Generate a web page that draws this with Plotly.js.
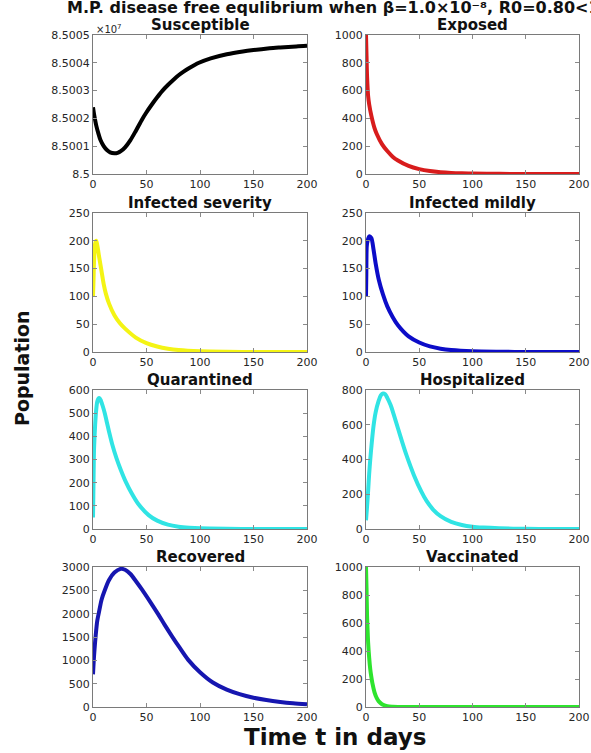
<!DOCTYPE html>
<html><head><meta charset="utf-8">
<script src="https://cdn.plot.ly/plotly-3.0.1.min.js"></script>
<style>html,body{margin:0;padding:0;background:#fff}#chart{width:591px;height:753px}</style>
</head><body><div id="chart"></div>
<script>
// ---- data ----
const tSusceptible = [0,1,2,3,5,7,10,13,16,20,23,26,30,35,40,46,50,55,60,65,70,75,80,85,90,99,110,125,140,150,165,175,190,200];
const susceptible = [85002400,85002150,85001940,85001750,85001460,85001220,85001000,85000860,85000780,85000745,85000760,85000820,85000960,85001220,85001550,85001970,85002220,85002500,85002760,85003000,85003200,85003380,85003550,85003690,85003810,85004000,85004160,85004310,85004410,85004460,85004520,85004550,85004590,85004610];

const tExposed = [0,0.5,1,2,3,5,8,10,15,20,25,30,40,50,60,70,80,90,100,125,150,175,200];
const exposed = [1000,850,700,560,500,420,330,290,215,165,125,97,58,35,21,13,8,5,3,1,0.3,0.1,0];

const tSevere = [0,0.5,1,2,3,4,6,8,10,12,15,20,25,30,40,50,60,70,80,100,125,150,200];
const infectedSevere = [100,130,165,195,200,192,168,145,122,105,87,66,52,42,26,16,10,6,3.5,1.3,0.4,0.1,0];

const tMild = [0,0.3,0.7,1.5,3,5,7,9,12,16,20,25,30,40,50,60,70,80,100,125,150,200];
const infectedMild = [100,140,190,200,208,205,185,160,130,103,82,63,48,28,17,10,6,3.5,1.2,0.4,0.1,0];

const tQuarantined = [0,0.3,0.7,1,2,3,4,5,6,7,9,11,13,15,18,22,26,31,36,42,52,60,70,80,90,100,125,150,200];
const quarantined = [50,140,280,350,450,515,550,563,565,558,532,500,460,420,365,305,255,200,155,110,60,36,19,10,5.5,2.8,0.8,0.2,0];

const tHospitalized = [0,1,2,3,4,5,7,9,12,14,16,18,20,23,26,30,34,38,45,52,57,63,70,80,90,100,110,125,150,175,200];
const hospitalized = [50,130,220,320,400,470,590,670,740,770,780,775,755,715,660,580,500,425,310,215,160,112,74,41,23,13,8,4,1,0.3,0.1];

const tRecovered = [0,1,2,3,4,6,8,11,15,20,26,30,35,40,46,53,61,67,74,81,89,100,112,125,137,150,162,175,187,200];
const recovered = [700,1100,1400,1650,1850,2080,2300,2500,2720,2880,2960,2940,2850,2700,2510,2270,1985,1760,1510,1270,1010,745,525,372,275,198,148,108,80,58];

const tVaccinated = [0,0.5,1,1.5,2,3,4,5,6,8,10,12,15,20,25,30,50,100,150,200];
const vaccinated = [1000,850,650,550,460,350,270,215,170,105,65,40,20,6,2,0.5,0,0,0,0];

const panelTitles = ['Susceptible','Exposed','Infected severity','Infected mildly','Quarantined','Hospitalized','Recovered','Vaccinated'];
const xTicks = [0,50,100,150,200];
const susceptibleTicks = [85000000,85001000,85002000,85003000,85004000,85005000];
const susceptibleTickText = ['8.5','8.5001','8.5002','8.5003','8.5004','8.5005'];
const yMax = [85005000,1000,250,250,600,800,3000,1000];
const yStep = [1000,200,50,50,100,200,500,200];

const mainTitle = 'M.P. disease free equlibrium when β=1.0×10⁻⁸, R0=0.80<1';
const xLabel = 'Time t in days';
const yLabel = 'Population';

// ---- build ----
const series = [
  [tSusceptible, susceptible, '#000000'],
  [tExposed, exposed, '#d81c1c'],
  [tSevere, infectedSevere, '#f4f414'],
  [tMild, infectedMild, '#0c0cc8'],
  [tQuarantined, quarantined, '#30e4e4'],
  [tHospitalized, hospitalized, '#30e4e4'],
  [tRecovered, recovered, '#1616b0'],
  [tVaccinated, vaccinated, '#2ee42e']
];
const W = 591, H = 753;
const colPx = [[93,307],[366,579]];
const rowPx = [[35,174],[213,352],[390,529],[567,707]];

const tickFont = {family:'DejaVu Sans', size:11, color:'#262626'};
const boldFont = (s)=>({family:'DejaVu Sans', size:s, color:'#111', weight:'bold'});

const traces = [];
const layout = {
  width:W, height:H, autosize:false,
  margin:{l:0,r:0,t:0,b:0},
  paper_bgcolor:'#fff', plot_bgcolor:'#fff',
  showlegend:false,
  annotations:[]
};
series.forEach((s,i)=>{
  const n = i+1;
  const col = i%2, row = Math.floor(i/2);
  const xd = [colPx[col][0]/W, colPx[col][1]/W];
  const yd = [1-rowPx[row][1]/H, 1-rowPx[row][0]/H];
  traces.push({x:s[0], y:s[1], type:'scatter', mode:'lines',
    line:{color:s[2], width:4, shape:'spline', smoothing:0.8}, xaxis:'x'+n, yaxis:'y'+n, hoverinfo:'skip'});
  const common = {showgrid:false, zeroline:false, showline:true, linecolor:'#7a7a7a', linewidth:1,
    mirror:'ticks', ticks:'inside', ticklen:4, tickcolor:'#8a8a8a', tickfont:tickFont, fixedrange:true};
  layout['xaxis'+n] = Object.assign({}, common, {domain:xd, anchor:'y'+n, range:[0,200],
    tickmode:'array', tickvals:xTicks, ticktext:xTicks.map(String)});
  const yTickVals = [];
  const yBase = i===0 ? 85000000 : 0;
  for (let v=yBase; v<=yMax[i]+1e-6; v+=yStep[i]) yTickVals.push(v);
  layout['yaxis'+n] = Object.assign({}, common, {domain:yd, anchor:'x'+n, range:[yBase,yMax[i]],
    tickmode:'array', tickvals: i===0?susceptibleTicks:yTickVals,
    ticktext: i===0?susceptibleTickText:yTickVals.map(String)});
  layout.annotations.push({text:panelTitles[i], xref:'paper', yref:'paper',
    x:(xd[0]+xd[1])/2, y:yd[1], xanchor:'center', yanchor:'bottom', yshift:-1,
    showarrow:false, font:boldFont(15)});
});
layout.annotations.push({text:'×10<sup>7</sup>', xref:'paper', yref:'paper', x:94/W, y:1-29/H,
  xanchor:'left', yanchor:'middle', showarrow:false, font:{family:'DejaVu Sans', size:10, color:'#262626'}});
layout.annotations.push({text:mainTitle, xref:'paper', yref:'paper', x:65/W, y:1-8/H,
  xanchor:'left', yanchor:'middle', showarrow:false, font:boldFont(16)});
layout.annotations.push({text:xLabel, xref:'paper', yref:'paper', x:335/W, y:1-737/H,
  xanchor:'center', yanchor:'middle', showarrow:false, font:boldFont(23)});
layout.annotations.push({text:yLabel, xref:'paper', yref:'paper', x:22/W, y:1-368/H,
  xanchor:'center', yanchor:'middle', textangle:-90, showarrow:false, font:boldFont(19)});

Plotly.newPlot('chart', traces, layout, {staticPlot:true, displayModeBar:false});
</script>
</body></html>
